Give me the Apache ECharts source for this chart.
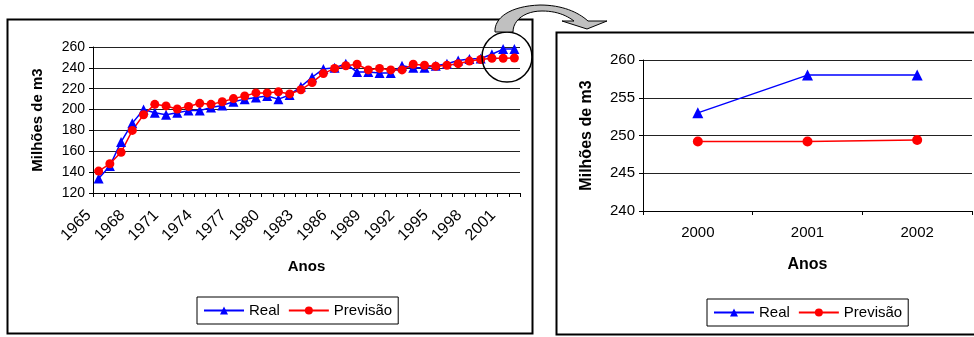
<!DOCTYPE html>
<html>
<head>
<meta charset="utf-8">
<script src="https://cdn.jsdelivr.net/npm/echarts@6/dist/echarts.min.js"></script>
<style>
  html, body { margin: 0; padding: 0; background: #fff; }
  #chart { width: 974px; height: 337px; }
</style>
</head>
<body>
<div id="chart"></div>
<script>
// Annual consumption, real vs. forecast (millions of m3)
const years = ['1965','1966','1967','1968','1969','1970','1971','1972','1973','1974',
  '1975','1976','1977','1978','1979','1980','1981','1982','1983','1984',
  '1985','1986','1987','1988','1989','1990','1991','1992','1993','1994',
  '1995','1996','1997','1998','1999','2000','2001','2002'];
const real = [134,146,169,187,200,197,195,197,199,199,
  202,204,207.5,210,211.5,213,210,214,222,231,
  239,240,244,236,236,235,235,242,240,240,
  242,244,247,248.5,249,253,258,258];
const previsao = [141,148,159,180,195,205,203.5,200.5,203,206,
  205,207.5,210.5,213,216,216,217,215,219,226,
  234.5,239.5,242,243.5,238,239.5,238,238,243.5,242.5,
  241.5,242.5,244,246.5,248,249.2,249.2,249.4];

// Detail view: last three years
const zoomYears = years.slice(-3);
const zoomReal = real.slice(-3);
const zoomPrevisao = previsao.slice(-3);

const FONT = 'Liberation Sans, Arial, sans-serif';

// Sample a cubic Bezier segment into polygon points (for the curved arrow outline)
function cubic(p0, p1, p2, p3, n) {
  const pts = [];
  for (let i = 0; i <= n; i++) {
    const t = i / n, u = 1 - t;
    pts.push([
      u*u*u*p0[0] + 3*u*u*t*p1[0] + 3*u*t*t*p2[0] + t*t*t*p3[0],
      u*u*u*p0[1] + 3*u*u*t*p1[1] + 3*u*t*t*p2[1] + t*t*t*p3[1]
    ]);
  }
  return pts;
}
const arrowPts = [].concat(
  cubic([495, 32], [494, 18], [510, 6], [540, 5], 16),
  cubic([540, 5], [562, 5], [578, 12], [588, 21], 16).slice(1),
  [[607, 21], [587, 29], [562, 21], [574, 21]],
  cubic([574, 21], [566, 15], [556, 11], [542, 11], 12).slice(1),
  cubic([542, 11], [525, 11], [513, 20], [513, 32], 12).slice(1)
);

const chart = echarts.init(document.getElementById('chart'), null, { renderer: 'canvas' });

const axisLine = { show: true, lineStyle: { color: '#000', width: 1 } };
const tick = { show: true, length: 4, lineStyle: { color: '#000' } };

chart.setOption({
  animation: false,
  backgroundColor: '#fff',
  grid: [
    { left: 93, top: 47, width: 427, height: 146 },
    { left: 643, top: 60, width: 329, height: 151 }
  ],
  xAxis: [
    {
      gridIndex: 0, type: 'category', data: years, boundaryGap: true,
      axisLine, axisTick: { ...tick, interval: 0, alignWithLabel: false },
      axisLabel: { interval: 2, rotate: 45, fontFamily: FONT, fontSize: 16, color: '#000',
        margin: 10, padding: [0, 14, 0, 0] },
      name: 'Anos', nameLocation: 'middle', nameGap: 66,
      nameTextStyle: { fontFamily: FONT, fontSize: 15, fontWeight: 'bold', color: '#000' }
    },
    {
      gridIndex: 1, type: 'category', data: zoomYears, boundaryGap: true,
      axisLine, axisTick: { ...tick, interval: 0, alignWithLabel: false },
      axisLabel: { fontFamily: FONT, fontSize: 15, color: '#000', margin: 14 },
      name: 'Anos', nameLocation: 'middle', nameGap: 46,
      nameTextStyle: { fontFamily: FONT, fontSize: 16, fontWeight: 'bold', color: '#000' }
    }
  ],
  yAxis: [
    {
      gridIndex: 0, type: 'value', min: 120, max: 260, interval: 20,
      axisLine, axisTick: tick,
      axisLabel: { fontFamily: FONT, fontSize: 14, color: '#000', margin: 8 },
      splitLine: { show: true, lineStyle: { color: '#222', width: 1 } },
      name: 'Milhões de m3', nameLocation: 'middle', nameGap: 48,
      nameTextStyle: { fontFamily: FONT, fontSize: 15, fontWeight: 'bold', color: '#000' }
    },
    {
      gridIndex: 1, type: 'value', min: 240, max: 260, interval: 5,
      axisLine, axisTick: tick,
      axisLabel: { fontFamily: FONT, fontSize: 15, color: '#000', margin: 8 },
      splitLine: { show: true, lineStyle: { color: '#222', width: 1 } },
      name: 'Milhões de m3', nameLocation: 'middle', nameGap: 48,
      nameTextStyle: { fontFamily: FONT, fontSize: 16, fontWeight: 'bold', color: '#000' }
    }
  ],
  legend: [
    {
      left: 197, top: 297, orient: 'horizontal', itemWidth: 40, itemHeight: 10, itemGap: 8,
      data: ['Real', 'Previsão'], borderColor: '#000', borderWidth: 1, padding: [6, 6],
      textStyle: { fontFamily: FONT, fontSize: 15, color: '#000' }, selectedMode: false
    },
    {
      left: 707, top: 299, orient: 'horizontal', itemWidth: 40, itemHeight: 10, itemGap: 8,
      data: ['Real', 'Previsão'], borderColor: '#000', borderWidth: 1, padding: [6, 6],
      textStyle: { fontFamily: FONT, fontSize: 15, color: '#000' }, selectedMode: false
    }
  ],
  series: [
    {
      name: 'Real', type: 'line', xAxisIndex: 0, yAxisIndex: 0, data: real,
      symbol: 'triangle', symbolSize: 10, showAllSymbol: true, color: '#0000ff',
      lineStyle: { color: '#0000ff', width: 1.5 }, itemStyle: { color: '#0000ff' }
    },
    {
      name: 'Previsão', type: 'line', xAxisIndex: 0, yAxisIndex: 0, data: previsao,
      symbol: 'circle', symbolSize: 9, showAllSymbol: true, color: '#ff0000',
      lineStyle: { color: '#ff0000', width: 1.5 }, itemStyle: { color: '#ff0000' }
    },
    {
      name: 'Real', type: 'line', xAxisIndex: 1, yAxisIndex: 1, data: zoomReal,
      symbol: 'triangle', symbolSize: 11, color: '#0000ff',
      lineStyle: { color: '#0000ff', width: 1.5 }, itemStyle: { color: '#0000ff' }
    },
    {
      name: 'Previsão', type: 'line', xAxisIndex: 1, yAxisIndex: 1, data: zoomPrevisao,
      symbol: 'circle', symbolSize: 10, color: '#ff0000',
      lineStyle: { color: '#ff0000', width: 1.5 }, itemStyle: { color: '#ff0000' }
    }
  ],
  graphic: [
    // panel frames
    { type: 'rect', shape: { x: 7.5, y: 19.5, width: 525, height: 314 }, z: 100,
      style: { fill: 'none', stroke: '#000', lineWidth: 2 } },
    { type: 'rect', shape: { x: 556.5, y: 32.5, width: 430, height: 302 }, z: 100,
      style: { fill: 'none', stroke: '#000', lineWidth: 2 } },
    // highlight circle round the last three years
    { type: 'circle', shape: { cx: 507, cy: 57, r: 25 }, z: 100,
      style: { fill: 'none', stroke: '#000', lineWidth: 1.5 } },
    // curved arrow pointing to the detail panel
    { type: 'polygon', z: 101, shape: { points: arrowPts },
      style: { fill: '#c0c0c0', stroke: '#000', lineWidth: 1 } }
  ]
});
</script>
</body>
</html>
